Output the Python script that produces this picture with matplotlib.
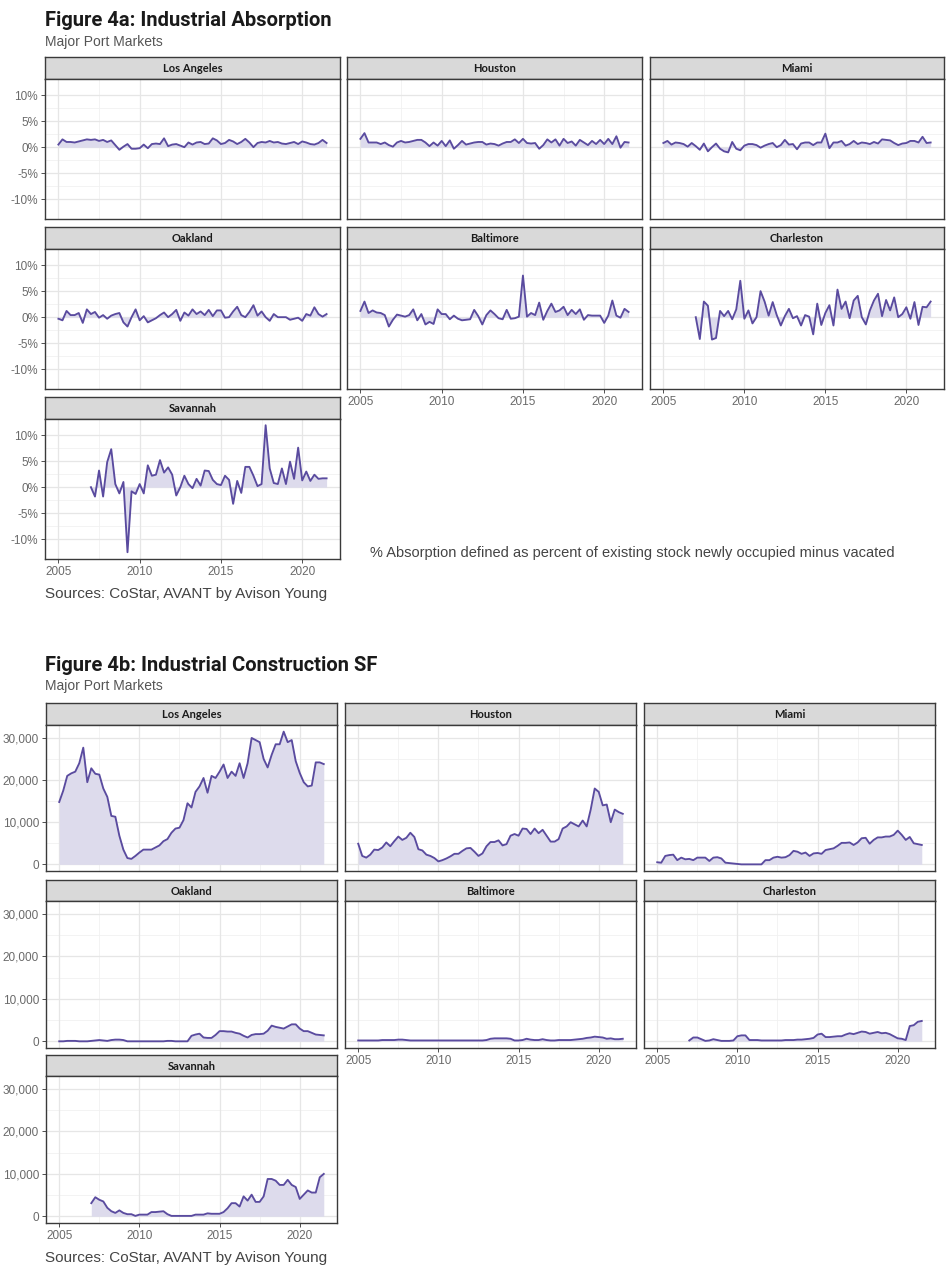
import numpy as np
import matplotlib
matplotlib.use("Agg")
import matplotlib.pyplot as plt
from matplotlib import font_manager

# ---------------- data ----------------
markets = ["Los Angeles", "Houston", "Miami", "Oakland", "Baltimore", "Charleston", "Savannah"]
quarters_full = np.arange(2005.0, 2021.5 + 0.01, 0.25)      # 2005Q1 .. 2021Q3
quarters_late = np.arange(2007.0, 2021.5 + 0.01, 0.25)      # 2007Q1 .. 2021Q3

# Figure 4a: absorption (% of stock)
abs_los_angeles = [0.5, 1.5, 1.0, 1.0, 0.9, 1.1, 1.3, 1.5, 1.4, 1.5, 1.2, 1.4,
                   1.0, 1.3, 0.4, -0.5, 0.1, 0.6, -0.3, -0.3, -0.2, 0.5, -0.2, 0.6,
                   0.7, 0.6, 1.7, 0.2, 0.5, 0.6, 0.3, 0.0, 0.9, 0.5, 0.9, 1.0,
                   0.6, 0.7, 1.7, 1.3, 0.6, 0.8, 1.4, 1.1, 0.6, 1.0, 1.6, 0.9,
                   0.0, 0.8, 1.0, 0.9, 1.2, 0.9, 1.0, 0.7, 0.6, 0.8, 1.0, 0.6,
                   1.1, 0.9, 0.6, 0.5, 0.8, 1.4, 0.8]
abs_houston = [1.6, 2.7, 0.9, 0.9, 0.9, 0.6, 0.9, 0.4, 0.1, 0.9, 1.2, 0.9,
               1.0, 1.2, 1.4, 1.4, 0.9, 0.2, 0.9, 0.3, 1.2, 0.2, 1.3, -0.3,
               0.4, 1.2, 0.5, 0.7, 0.9, 1.0, 1.0, 0.5, 0.7, 0.6, 0.3, 0.7,
               1.0, 1.0, 1.5, 0.8, 1.6, 0.8, 0.7, 0.8, -0.3, 0.4, 1.5, 0.9,
               1.5, 0.3, 1.6, 0.8, 1.1, 0.3, 1.4, 0.9, 0.4, 1.2, 0.6, 1.4,
               0.6, 1.6, 0.6, 2.1, -0.1, 1.0, 0.9]
abs_miami = [0.8, 1.2, 0.5, 0.9, 0.8, 0.6, 0.1, 0.8, 0.2, -0.5, 0.7, -0.8,
             0.0, 0.7, -0.3, -0.8, -1.0, 1.0, -0.3, -0.6, 0.3, 0.6, 0.6, 0.4,
             -0.1, 0.3, 0.6, 0.8, 0.0, 0.4, 1.4, 0.5, 0.6, -0.4, 0.7, 0.9,
             0.9, 0.4, 0.9, 0.9, 2.6, -0.2, 0.9, 0.9, 1.2, 0.3, 0.6, 1.2,
             0.6, 0.9, 0.8, 0.6, 1.0, 0.7, 1.5, 1.4, 1.3, 0.8, 0.4, 0.7,
             0.8, 1.2, 1.2, 0.9, 2.0, 0.8, 0.9]
abs_oakland = [-0.3, -0.6, 1.2, 0.4, 0.4, 0.8, -1.1, 1.5, 0.6, 1.0, -0.1, 0.4,
               -0.3, 0.3, 0.6, 0.8, -1.0, -1.8, 0.0, 1.5, -0.6, 0.2, -1.0, -0.6,
               -0.2, 0.4, 0.9, 0.0, 0.6, 1.4, -0.7, 0.9, 0.3, 1.5, 0.6, 1.1,
               0.4, 1.4, 0.2, 1.3, 1.3, -0.1, 0.0, 1.1, 2.0, 0.4, 0.0, 1.0,
               2.3, 0.3, 1.1, 0.0, -0.7, 0.6, 0.0, 0.0, 0.0, -0.5, -0.3, -0.1,
               -0.7, 0.6, 0.3, 1.9, 0.6, 0.1, 0.6]
abs_baltimore = [1.2, 3.0, 0.8, 1.3, 0.9, 0.8, 0.4, -1.8, -0.5, 0.5, 0.3, 0.1,
                 0.4, 1.5, -0.6, 0.6, -1.4, -0.9, -1.3, 1.5, 0.6, 0.6, -0.4, 0.3,
                 -0.3, -0.6, -0.5, -0.4, 1.4, 0.2, -1.4, 0.4, 1.3, 0.6, -0.2, -0.4,
                 1.4, -0.3, -0.2, 0.1, 8.0, 0.1, 0.8, 0.4, 2.8, -0.5, 1.2, 2.6,
                 1.0, 1.3, 2.0, 0.4, 1.4, 0.6, 1.5, -0.5, 0.4, 0.3, 0.3, 0.3,
                 -1.1, 0.3, 3.2, 0.3, -0.1, 1.6, 1.0]
abs_charleston = [0.0, -4.2, 3.0, 2.2, -4.3, -4.0, 1.2, 0.2, 1.2, -0.4, 1.5, 7.0,
                  -0.3, 1.3, -1.2, 0.0, 5.0, 3.0, 0.3, 2.9, 0.4, -1.6, 0.2, 1.6,
                  -0.2, 0.2, -1.6, 0.4, 0.1, -3.3, 2.6, -1.5, 0.8, 2.3, -1.6, 5.3,
                  1.6, 3.0, -0.2, 3.2, 4.1, 0.0, -1.4, 1.3, 3.2, 4.5, 0.2, 3.3,
                  1.3, 3.8, 0.0, 0.6, 1.9, -0.3, 2.9, -1.5, 2.0, 1.9, 3.0]
abs_savannah = [0.0, -1.8, 3.2, -1.8, 4.8, 7.3, 0.6, -1.2, 1.0, -12.5, -0.8, -1.3,
                0.6, -1.2, 4.2, 2.2, 2.4, 5.2, 2.8, 3.8, 2.4, -1.6, 0.0, 2.2,
                0.6, -0.2, 1.6, 0.3, 3.2, 3.1, 1.4, 0.6, 0.4, 2.2, 1.4, -3.2,
                1.2, -1.1, 3.9, 3.9, 2.2, 0.2, 0.6, 11.9, 3.6, 0.8, 0.6, 3.6,
                0.6, 4.9, 1.6, 7.6, 1.3, 3.0, 1.2, 2.4, 1.6, 1.7, 1.7]

# Figure 4b: construction (thousand SF)
con_los_angeles = [14.8, 17.5, 21.0, 21.6, 22.0, 24.0, 27.7, 19.5, 22.8, 21.5, 21.3, 18.0,
                   16.0, 11.5, 11.3, 6.8, 3.5, 1.5, 1.3, 2.0, 2.8, 3.5, 3.5, 3.5,
                   4.0, 4.5, 5.5, 6.0, 7.5, 8.5, 8.7, 10.5, 14.5, 13.5, 17.2, 18.5,
                   20.5, 17.0, 21.0, 20.5, 22.0, 23.7, 20.5, 22.0, 21.0, 24.0, 20.5, 24.0,
                   30.0, 29.5, 29.0, 25.0, 23.0, 26.0, 28.5, 28.5, 31.5, 29.0, 29.5, 24.5,
                   21.7, 19.5, 18.5, 18.7, 24.2, 24.2, 23.8]
con_houston = [4.9, 2.0, 1.6, 2.3, 3.5, 3.4, 4.0, 5.2, 4.3, 5.5, 6.6, 5.8,
               6.3, 7.5, 6.5, 3.6, 3.3, 2.3, 2.0, 1.5, 0.7, 1.0, 1.4, 1.9,
               2.5, 2.5, 3.2, 3.8, 3.9, 3.0, 2.0, 2.6, 4.3, 5.3, 5.3, 5.7,
               4.5, 4.8, 6.8, 7.2, 6.8, 8.5, 8.4, 7.2, 8.5, 7.4, 8.2, 6.8,
               5.4, 5.4, 6.0, 8.5, 9.0, 10.0, 9.5, 9.0, 10.4, 9.0, 13.0, 18.0,
               17.2, 14.0, 14.2, 10.0, 13.0, 12.4, 12.0]
con_miami = [0.5, 0.4, 2.0, 2.2, 2.3, 1.0, 1.6, 1.2, 1.3, 1.0, 1.6, 1.6,
             1.6, 0.8, 1.6, 1.7, 1.4, 0.4, 0.3, 0.2, 0.1, 0.0, 0.0, 0.0,
             0.0, 0.0, 0.0, 1.0, 1.0, 1.6, 1.8, 1.6, 1.7, 2.2, 3.2, 3.0,
             2.5, 2.8, 2.0, 2.6, 2.7, 2.5, 3.4, 3.6, 3.8, 4.4, 5.1, 5.1,
             5.2, 4.6, 5.2, 6.2, 6.3, 4.9, 5.8, 6.4, 6.4, 6.6, 6.6, 7.0,
             8.0, 7.0, 5.8, 6.5, 5.0, 4.8, 4.6]
con_oakland = [0.0, 0.0, 0.1, 0.1, 0.1, 0.0, 0.0, 0.0, 0.1, 0.2, 0.3, 0.2,
               0.1, 0.3, 0.4, 0.4, 0.3, 0.0, 0.0, 0.0, 0.0, 0.0, 0.0, 0.0,
               0.0, 0.0, 0.0, 0.1, 0.1, 0.0, 0.0, 0.0, 0.0, 1.3, 1.6, 1.8,
               0.9, 0.8, 0.8, 1.5, 2.4, 2.4, 2.3, 2.3, 2.0, 1.8, 1.3, 0.9,
               1.5, 1.7, 1.7, 1.8, 2.5, 3.7, 3.4, 3.2, 3.0, 3.5, 4.0, 4.0,
               3.0, 2.4, 2.4, 2.0, 1.6, 1.5, 1.4]
con_baltimore = [0.2, 0.2, 0.2, 0.2, 0.2, 0.2, 0.3, 0.3, 0.3, 0.3, 0.4, 0.4,
                 0.3, 0.2, 0.2, 0.2, 0.2, 0.2, 0.2, 0.2, 0.2, 0.2, 0.2, 0.2,
                 0.2, 0.2, 0.2, 0.2, 0.2, 0.2, 0.2, 0.2, 0.3, 0.6, 0.7, 0.7,
                 0.7, 0.7, 0.6, 0.2, 0.2, 0.3, 0.6, 0.4, 0.3, 0.3, 0.5, 0.3,
                 0.2, 0.2, 0.3, 0.3, 0.3, 0.3, 0.4, 0.5, 0.6, 0.8, 0.9, 1.1,
                 1.0, 0.9, 0.6, 0.7, 0.5, 0.5, 0.6]
con_charleston = [0.2, 0.9, 0.9, 0.5, 0.1, 0.2, 0.5, 0.3, 0.1, 0.1, 0.1, 0.2,
                  1.2, 1.4, 1.4, 0.3, 0.3, 0.3, 0.2, 0.2, 0.2, 0.2, 0.2, 0.2,
                  0.3, 0.3, 0.3, 0.4, 0.4, 0.5, 0.6, 0.8, 1.6, 1.8, 1.0, 1.0,
                  1.1, 1.2, 1.2, 1.6, 1.9, 1.7, 2.0, 2.3, 2.2, 1.8, 2.0, 2.2,
                  1.9, 2.0, 1.7, 1.2, 0.7, 0.6, 0.3, 3.6, 3.8, 4.6, 4.8]
con_savannah = [3.1, 4.5, 3.9, 3.5, 2.0, 1.2, 0.8, 1.4, 0.8, 0.5, 0.5, 0.1,
                0.4, 0.4, 0.4, 1.0, 1.0, 1.1, 1.2, 0.5, 0.1, 0.1, 0.1, 0.1,
                0.1, 0.1, 0.4, 0.4, 0.4, 0.7, 0.6, 0.6, 0.6, 1.0, 1.9, 3.1,
                3.1, 2.3, 4.7, 3.7, 5.1, 3.4, 3.4, 4.7, 8.8, 8.8, 8.4, 7.4,
                7.4, 8.6, 7.4, 6.9, 4.1, 5.1, 6.1, 5.6, 5.6, 9.2, 10.0]

abs_series = [abs_los_angeles, abs_houston, abs_miami, abs_oakland,
              abs_baltimore, abs_charleston, abs_savannah]
con_series = [con_los_angeles, con_houston, con_miami, con_oakland,
              con_baltimore, con_charleston, con_savannah]

abs_yticks = [-10, -5, 0, 5, 10]
con_yticks = [0, 10000, 20000, 30000]
x_ticks = [2005, 2010, 2015, 2020]

# ---------------- styling ----------------
W, H = 950, 1271
names = {f.name for f in font_manager.fontManager.ttflist}
TITLE_FONT = "Liberation Sans Narrow" if "Liberation Sans Narrow" in names else "Roboto"
BODY_FONT = "Liberation Sans" if "Liberation Sans" in names else "DejaVu Sans"
STRIP_FONT = "Lato" if "Lato" in names else "DejaVu Sans"

LINE_C = "#5a4b9f"
FILL_C = "#dddbec"
GRID_MAJ = "#e6e6e6"
GRID_MIN = "#f1f1f1"
TICK_TXT = "#6a6a6a"
SPINE_C = "#3a3a3a"

fig = plt.figure(figsize=(W / 100, H / 100), dpi=100)
fig.patch.set_facecolor("white")


def rect(x0, y0, x1, y1):
    return [x0 / W, 1 - y1 / H, (x1 - x0) / W, (y1 - y0) / H]


def ftext(x, y, s, **kw):
    fig.text(x / W, 1 - y / H, s, **kw)


def draw_panel(col_px, row_px, name, x, y, ylim, yticks, ylabels, yminor,
               show_x, show_y):
    x0, x1 = col_px
    st, bt, bb = row_px
    # strip
    sax = fig.add_axes(rect(x0, st, x1, bt))
    sax.set_facecolor("#d9d9d9")
    sax.set_xticks([])
    sax.set_yticks([])
    for sp in sax.spines.values():
        sp.set_color(SPINE_C)
        sp.set_linewidth(1.0)
    sax.text(0.5, 0.47, name, ha="center", va="center", fontsize=8,
             fontweight="bold", family=STRIP_FONT, color="#1a1a1a",
             transform=sax.transAxes)
    # body
    ax = fig.add_axes(rect(x0, bt, x1, bb))
    ax.set_xlim(2004.175, 2022.325)
    ax.set_ylim(*ylim)
    for xm in [2007.5, 2012.5, 2017.5]:
        ax.axvline(xm, color=GRID_MIN, lw=0.6, zorder=0)
    for ym in yminor:
        ax.axhline(ym, color=GRID_MIN, lw=0.6, zorder=0)
    for xv in x_ticks:
        ax.axvline(xv, color=GRID_MAJ, lw=0.9, zorder=0)
    for yv in yticks:
        ax.axhline(yv, color=GRID_MAJ, lw=0.9, zorder=0)
    y = np.asarray(y)
    ax.fill_between(x, 0, y, color=FILL_C, lw=0, zorder=1)
    ax.plot(x, y, color=LINE_C, lw=1.35, zorder=2, solid_joinstyle="round")
    ax.set_xticks(x_ticks)
    ax.set_yticks(yticks)
    for sp in ax.spines.values():
        sp.set_color(SPINE_C)
        sp.set_linewidth(1.0)
    if show_x:
        ax.set_xticklabels([str(v) for v in x_ticks])
        ax.tick_params(axis="x", length=3, width=0.6, color="#333333",
                       labelsize=8.5, labelcolor=TICK_TXT, pad=2)
    else:
        ax.set_xticklabels([])
        ax.tick_params(axis="x", length=0)
    if show_y:
        ax.set_yticklabels(ylabels)
        ax.tick_params(axis="y", length=3, width=0.6, color="#333333",
                       labelsize=8.5, labelcolor=TICK_TXT, pad=2)
    else:
        ax.set_yticklabels([])
        ax.tick_params(axis="y", length=0)
    for lab in ax.get_xticklabels() + ax.get_yticklabels():
        lab.set_family(BODY_FONT)
    return ax


def x_for(vals):
    return quarters_full if len(vals) == len(quarters_full) else quarters_late


# ---------------- Figure 4a ----------------
cols_a = [(45, 340), (347, 642), (650, 944)]
rows_a = [(57, 79, 219), (227, 249, 389), (397, 419, 559)]
abs_labels = [f"{v}%" for v in abs_yticks]
for i, (name, vals) in enumerate(zip(markets, abs_series)):
    r, c = divmod(i, 3)
    draw_panel(cols_a[c], rows_a[r], name, x_for(vals), vals,
               (-13.8, 13.1), abs_yticks, abs_labels, [-7.5, -2.5, 2.5, 7.5],
               show_x=(i >= 4), show_y=(c == 0))

ftext(45, 26, "Figure 4a: Industrial Absorption", fontsize=14.5, fontweight="bold",
      family=TITLE_FONT, color="#1a1a1a", va="baseline")
ftext(45, 46, "Major Port Markets", fontsize=10, family=BODY_FONT,
      color="#555555", va="baseline")
ftext(370, 553, "% Absorption defined as percent of existing stock newly occupied minus vacated",
      fontsize=10.5, family=BODY_FONT, color="#444444", va="center")
ftext(45, 594, "Sources: CoStar, AVANT by Avison Young", fontsize=11,
      family=BODY_FONT, color="#444444", va="center")

# ---------------- Figure 4b ----------------
cols_b = [(46, 337), (345, 636), (644, 935)]
rows_b = [(703, 725, 871), (880, 901, 1048), (1055, 1076, 1223)]
con_labels = [f"{v:,}" for v in con_yticks]
for i, (name, vals) in enumerate(zip(markets, con_series)):
    r, c = divmod(i, 3)
    vals_sf = [v * 1000 for v in vals]
    draw_panel(cols_b[c], rows_b[r], name, x_for(vals), vals_sf,
               (-1575, 33075), con_yticks, con_labels, [5000, 15000, 25000],
               show_x=(i >= 4), show_y=(c == 0))

ftext(45, 671, "Figure 4b: Industrial Construction SF", fontsize=14.5,
      fontweight="bold", family=TITLE_FONT, color="#1a1a1a", va="baseline")
ftext(45, 690, "Major Port Markets", fontsize=10, family=BODY_FONT,
      color="#555555", va="baseline")
ftext(45, 1258, "Sources: CoStar, AVANT by Avison Young", fontsize=11,
      family=BODY_FONT, color="#444444", va="center")

fig.savefig("out.png", dpi=100, facecolor="white")
